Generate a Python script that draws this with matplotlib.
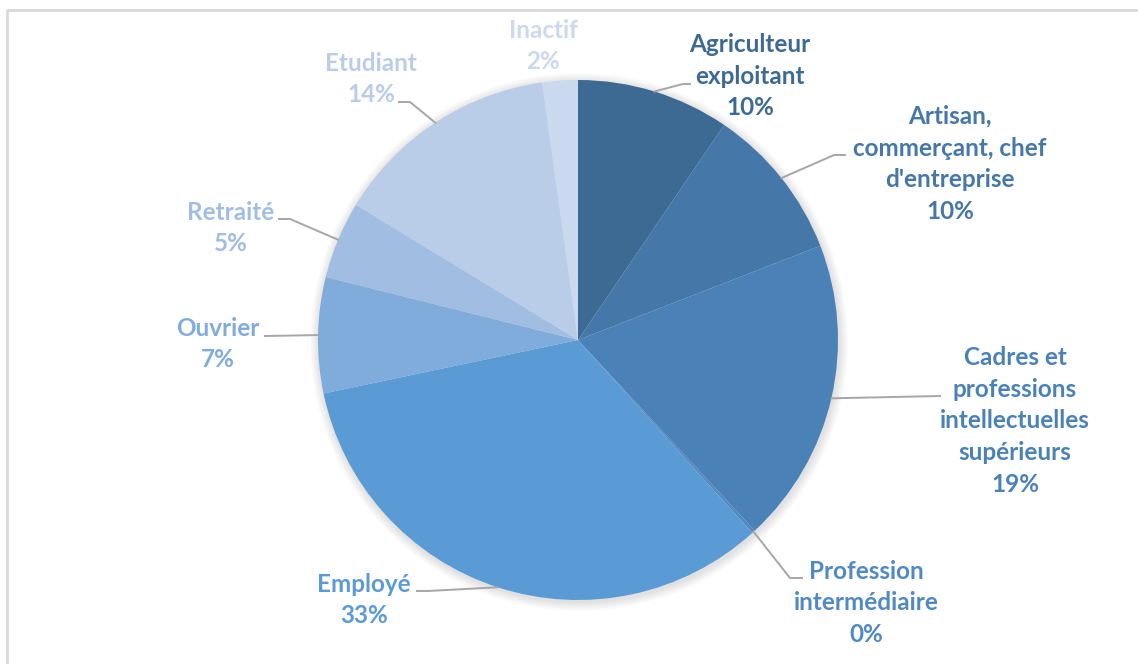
import numpy as np
import matplotlib
matplotlib.use("Agg")
import matplotlib.pyplot as plt
from matplotlib.patches import Circle

# ---- data ----
categories = ["Agriculteur\nexploitant", "Artisan,\ncommerçant, chef\nd'entreprise",
              "Cadres et\nprofessions\nintellectuelles\nsupérieurs", "Profession\nintermédiaire",
              "Employé", "Ouvrier", "Retraité", "Etudiant", "Inactif"]
values = [9.5, 9.6, 19.0, 0.2, 33.4, 7.2, 4.8, 14.1, 2.2]
pct_labels = ["10%", "10%", "19%", "0%", "33%", "7%", "5%", "14%", "2%"]
colors = ["#3d6a93", "#4577a8", "#4a82b8", "#5089c3", "#5b9bd5",
          "#80acdc", "#a1bde2", "#b9cde8", "#cbd9ee"]

# ---- layout (pixel coords, y downward) ----
W, H = 1138, 664
CX, CY, R = 578, 340, 260
label_pos = [(750, 76), (950, 164), (1015, 421), (866, 603), (364, 600),
             (218, 344), (231, 228), (371, 79), (543, 46)]
leaders = [[(683, 84), (690, 84)], [(834, 155), (845, 155)], [(940, 396)],
           [(790, 578), (802, 578)], [(428, 591), (417, 591)], [(265, 336)],
           [(290, 219), (279, 219)], [(410, 102), (399, 102)], None]

fig = plt.figure(figsize=(W / 100, H / 100), dpi=100)
ax = fig.add_axes([0, 0, 1, 1])

def Y(y):
    return H - y

# frame
ax.plot([7, 7, W], [0, Y(10), Y(10)], color="#d9d9d9", lw=2, solid_capstyle="butt", zorder=1)

# soft shadow
for i in range(10):
    ax.add_patch(Circle((CX + 1, Y(CY) - 2), R + 1 + i * 0.9, color="black",
                        alpha=0.012, lw=0, zorder=1))

wedges, _ = ax.pie(values, colors=colors, startangle=90, counterclock=False,
                   center=(CX, Y(CY)), radius=R, frame=True,
                   wedgeprops=dict(linewidth=0, zorder=2))
ax.set_xlim(0, W)
ax.set_ylim(0, H)
ax.set_aspect("equal")
ax.axis("off")

for i, w in enumerate(wedges):
    mid = np.deg2rad((w.theta1 + w.theta2) / 2)
    ex, ey = CX + R * np.cos(mid), Y(CY) + R * np.sin(mid)
    if leaders[i]:
        xs = [ex] + [p[0] for p in leaders[i]]
        ys = [ey] + [Y(p[1]) for p in leaders[i]]
        ax.plot(xs, ys, color="#a6a6a6", lw=1.4, zorder=3)
    lx, ly = label_pos[i]
    ax.text(lx, Y(ly), categories[i] + "\n" + pct_labels[i], ha="center", va="center",
            color=colors[i], fontsize=17.5, fontweight="bold", family="Lato",
            linespacing=1.47, zorder=4)

fig.savefig("out.png", dpi=100, facecolor="white")
